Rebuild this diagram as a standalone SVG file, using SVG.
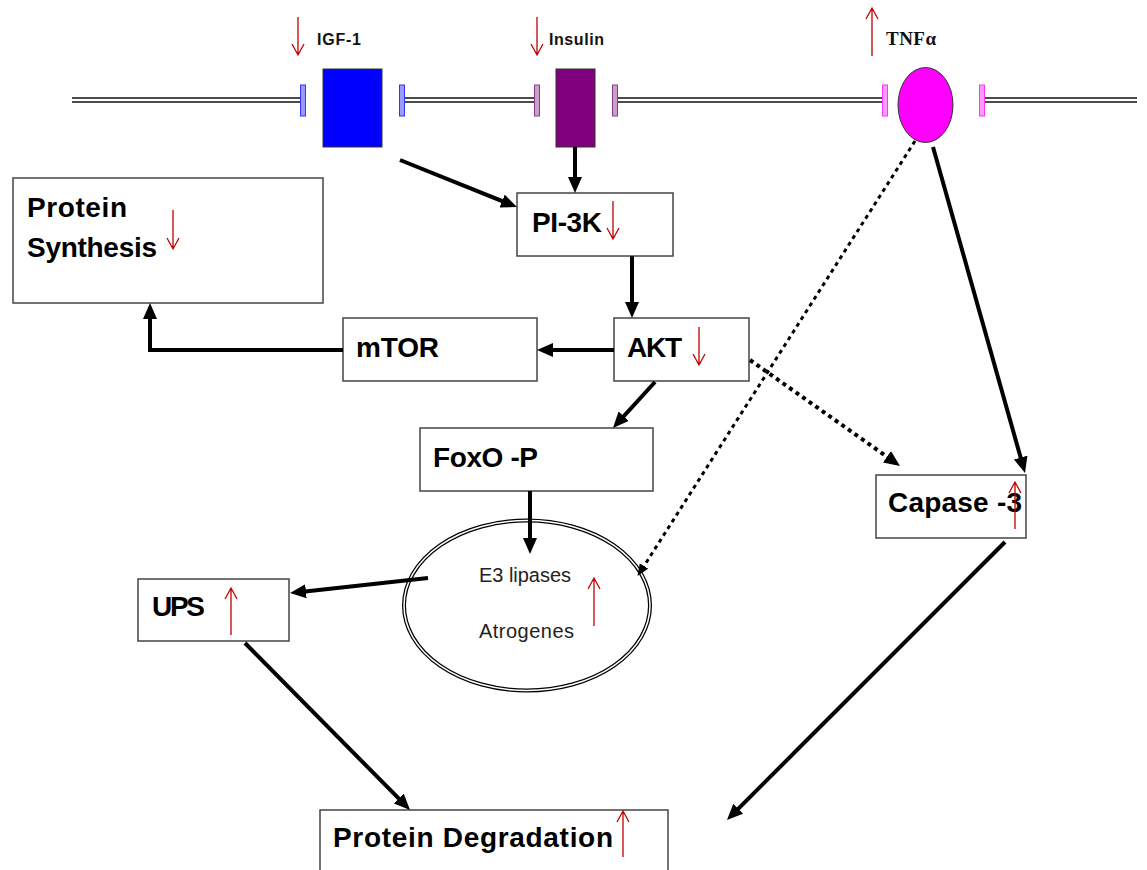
<svg xmlns="http://www.w3.org/2000/svg" width="1147" height="870" viewBox="0 0 1147 870">
<defs>
<style>
.box{fill:#fff;stroke:#444;stroke-width:1.5}
.lbl{font-family:"Liberation Sans",Arial,sans-serif;font-weight:bold;font-size:28px;fill:#000}
.sm{font-family:"Liberation Sans",Arial,sans-serif;font-size:20px;fill:#222}
.top{font-family:"Liberation Sans",Arial,sans-serif;font-weight:bold;font-size:16px;fill:#111}
.red{fill:none;stroke:#c00000;stroke-width:1.3}
.mem{stroke:#111;stroke-width:1.5}
.conn{fill:none;stroke:#000;stroke-width:4}
.dot{fill:none;stroke:#000;stroke-width:4;stroke-dasharray:4 4}
</style>
<marker id="ah" markerUnits="userSpaceOnUse" viewBox="0 0 16 14" markerWidth="16" markerHeight="14" refX="10" refY="7" orient="auto">
<path d="M0 0 L16 7 L0 14 Z" fill="#000"/>
</marker>
<marker id="ahs" markerUnits="userSpaceOnUse" viewBox="0 0 12 10" markerWidth="12" markerHeight="10" refX="7" refY="5" orient="auto">
<path d="M0 0 L12 5 L0 10 Z" fill="#000"/>
</marker>
</defs>
<rect width="1147" height="870" fill="#fff"/>

<g id="membrane">
<path class="mem" d="M72 98 H303 M72 102 H303 M402 98 H537 M402 102 H537 M614 98 H885 M614 102 H885 M982 98 H1137 M982 102 H1137"/>
<rect x="300.5" y="85" width="5" height="31" fill="#9a9aff" stroke="#3333ff" stroke-width="1"/>
<rect x="399.5" y="85" width="5" height="31" fill="#9a9aff" stroke="#3333ff" stroke-width="1"/>
<rect x="534.5" y="85" width="5" height="31" fill="#c9a0c9" stroke="#8a3a8a" stroke-width="1"/>
<rect x="612.5" y="85" width="5" height="31" fill="#c9a0c9" stroke="#8a3a8a" stroke-width="1"/>
<rect x="882.5" y="85" width="5" height="31" fill="#ff9aff" stroke="#ff33ff" stroke-width="1"/>
<rect x="979.5" y="85" width="5" height="31" fill="#ff9aff" stroke="#ff33ff" stroke-width="1"/>
</g>

<g id="igf1">
<rect x="323" y="69" width="59" height="78" fill="#0000ff" stroke="#333" stroke-width="1"/>
<text class="top" x="317" y="45" textLength="44">IGF-1</text>
<path class="red" d="M298 17 V55 M292 44 L298 55 L304 44"/>
</g>

<g id="insulin">
<rect x="556" y="69" width="39" height="78" fill="#800080" stroke="#333" stroke-width="1"/>
<text class="top" x="549" y="45" textLength="55">Insulin</text>
<path class="red" d="M537 17 V55 M531 44 L537 55 L543 44"/>
</g>

<g id="tnfa">
<ellipse cx="925.5" cy="105" rx="27.5" ry="37.5" fill="#ff00ff" stroke="#333" stroke-width="1"/>
<text x="886" y="45" font-family="'Liberation Serif','Times New Roman',serif" font-weight="bold" font-size="19" fill="#111" textLength="50">TNFα</text>
<path class="red" d="M872 56 V8 M866 19 L872 8 L878 19"/>
</g>

<g id="protein-synthesis">
<rect class="box" x="13" y="178" width="310" height="125"/>
<text class="lbl" x="27" y="217" textLength="100">Protein</text>
<text class="lbl" x="27" y="257" textLength="130">Synthesis</text>
<path class="red" d="M173 210 V249 M167 238 L173 249 L179 238"/>
</g>

<g id="pi3k">
<rect class="box" x="517" y="193" width="156" height="63"/>
<text class="lbl" x="532" y="232" textLength="70">PI-3K</text>
<path class="red" d="M613 201 V239 M607 228 L613 239 L619 228"/>
</g>

<g id="akt">
<rect class="box" x="614" y="318" width="135" height="63"/>
<text class="lbl" x="627" y="357" textLength="55">AKT</text>
<path class="red" d="M699 327 V365 M693 354 L699 365 L705 354"/>
</g>

<g id="mtor">
<rect class="box" x="343" y="318" width="194" height="63"/>
<text class="lbl" x="356" y="357" textLength="83">mTOR</text>
</g>

<g id="foxo">
<rect class="box" x="420" y="428" width="233" height="63"/>
<text class="lbl" x="433" y="467" textLength="105">FoxO -P</text>
</g>

<g id="e3">
<ellipse cx="527" cy="605.5" rx="123" ry="85" fill="#fff" stroke="#000" stroke-width="4"/>
<ellipse cx="527" cy="605.5" rx="123" ry="85" fill="none" stroke="#fff" stroke-width="1.5"/>
<text class="sm" x="479" y="582" textLength="92">E3 lipases</text>
<text class="sm" x="479" y="638" textLength="95">Atrogenes</text>
<path class="red" d="M594 626 V578 M588 589 L594 578 L600 589"/>
</g>

<g id="ups">
<rect class="box" x="138" y="579" width="151" height="62"/>
<text class="lbl" x="152" y="616" textLength="53">UPS</text>
<path class="red" d="M231 635 V588 M225 599 L231 588 L237 599"/>
</g>

<g id="caspase3">
<rect class="box" x="876" y="475" width="150" height="63"/>
<text class="lbl" x="888" y="512" textLength="134">Capase -3</text>
<path class="red" d="M1015 529 V482 M1009 493 L1015 482 L1021 493"/>
</g>

<g id="protein-degradation">
<rect class="box" x="320" y="810" width="348" height="70"/>
<text class="lbl" x="333" y="847" textLength="280">Protein Degradation</text>
<path class="red" d="M623 857 V811 M617 822 L623 811 L629 822"/>
</g>

<g id="connectors">
<path class="conn" d="M575 147 V187" marker-end="url(#ah)"/>
<path class="conn" d="M400 160 L511.4 204.8" marker-end="url(#ah)"/>
<path class="conn" d="M632 256 V312" marker-end="url(#ah)"/>
<path class="conn" d="M614 350 H543" marker-end="url(#ah)"/>
<path class="conn" d="M343 350 H150 V309" marker-end="url(#ah)"/>
<path class="conn" d="M655 382 L617 423.6" marker-end="url(#ah)"/>
<path class="conn" d="M530 491 V548" marker-end="url(#ah)"/>
<path class="conn" d="M428 578 L296 592.4" marker-end="url(#ah)"/>
<path class="conn" d="M245 643 L405.8 805.7" marker-end="url(#ah)"/>
<path class="conn" d="M1005 542 L731.2 815.8" marker-end="url(#ah)"/>
<path class="conn" d="M933 147 L1023.4 467.2" marker-end="url(#ah)"/>
<path class="dot" style="stroke-width:3" d="M915 141 L640.2 571.9" marker-end="url(#ahs)"/>
<path class="dot" d="M750 360 L895.1 462.5" marker-end="url(#ah)"/>
</g>
</svg>
